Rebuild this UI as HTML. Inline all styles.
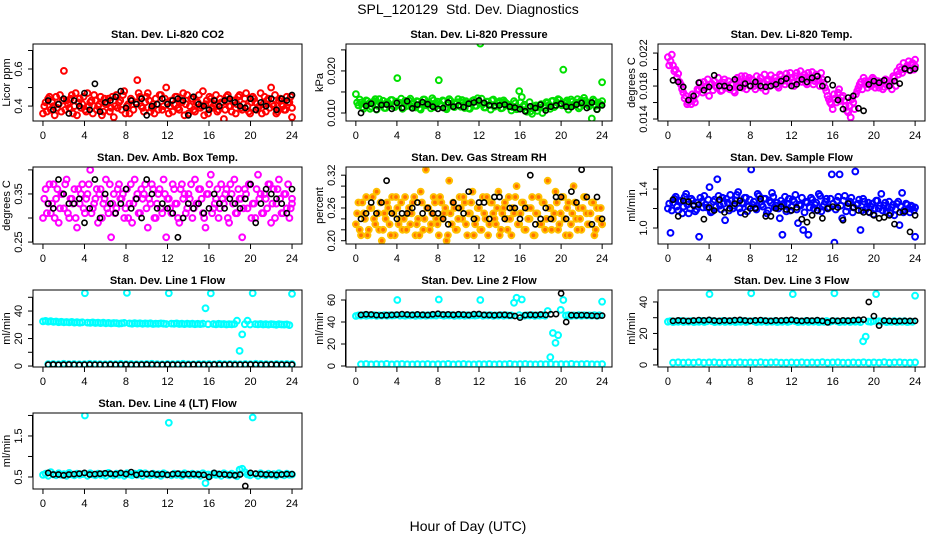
<!DOCTYPE html>
<html><head><meta charset="utf-8">
<style>
html,body{margin:0;padding:0;background:#fff;}
svg{display:block;font-family:"Liberation Sans",Arial,sans-serif;}
</style></head>
<body>
<svg id="chart" width="936" height="540" viewBox="0 0 936 540">
<rect width="936" height="540" fill="#fff"/>
<text x="468" y="14" text-anchor="middle" font-size="14">SPL_120129&#160; Std. Dev. Diagnostics</text>
<text x="468" y="531" text-anchor="middle" font-size="14">Hour of Day (UTC)</text>
</svg>
<script>
const xTicks = [0,4,8,12,16,20,24];

const co2Color = [0.36,0.42,0.44,0.38,0.40,0.45,0.41,0.37,0.59,0.43,0.39,0.46,0.40,0.35,0.44,0.41,0.38,0.47,0.42,0.36,0.43,0.40,0.45,0.37,0.41,0.44,0.39,0.34,0.46,0.42,0.38,0.48,0.40,0.36,0.43,0.76,0.54,0.45,0.39,0.42,0.47,0.37,0.41,0.44,0.38,0.46,0.40,0.50,0.36,0.43,0.41,0.45,0.38,0.42,0.35,0.46,0.40,0.44,0.37,0.42,0.39,0.48,0.41,0.36,0.44,0.40,0.46,0.38,0.42,0.33,0.45,0.40,0.37,0.43,0.41,0.46,0.38,0.44,0.40,0.36,0.45,0.42,0.39,0.47,0.41,0.37,0.44,0.50,0.40,0.36,0.43,0.41,0.38,0.45,0.42,0.34];
const co2ColorB = [0.40,0.37,0.45,0.42,0.35,0.39,0.46,0.43,0.38,0.41,0.44,0.36,0.47,0.42,0.39,0.45,0.37,0.40,0.43,0.46,0.38,0.41,0.35,0.44,0.42,0.37,0.45,0.40,0.39,0.43,0.46,0.36,0.41,0.44,0.38,0.42,0.47,0.40,0.37,0.45,0.43,0.39,0.36,0.41,0.46,0.38,0.44,0.42,0.40,0.37,0.45,0.39,0.43,0.47,0.41,0.36,0.44,0.38,0.42,0.46,0.40,0.35,0.43,0.45,0.39,0.41,0.37,0.44,0.42,0.38,0.46,0.40,0.43,0.36,0.45,0.39,0.41,0.47,0.37,0.42,0.44,0.38,0.40,0.36,0.45,0.43,0.39,0.41,0.46,0.37,0.44,0.40,0.38,0.42,0.45,0.39];
const co2Black = [0.43,0.38,0.41,0.44,0.36,0.43,0.40,0.47,0.38,0.52,0.37,0.42,0.43,0.45,0.48,0.39,0.43,0.41,0.44,0.35,0.40,0.41,0.44,0.41,0.43,0.44,0.43,0.35,0.45,0.41,0.40,0.38,0.43,0.40,0.43,0.44,0.42,0.40,0.39,0.44,0.38,0.42,0.40,0.44,0.38,0.44,0.43,0.46];

const presColor = [0.0145,0.0118,0.0125,0.0110,0.0130,0.0122,0.0115,0.0128,0.0108,0.0133,0.0120,0.0112,0.0126,0.0119,0.0131,0.0114,0.0183,0.0124,0.0110,0.0129,0.0117,0.0134,0.0121,0.0113,0.0127,0.0108,0.0132,0.0118,0.0125,0.0111,0.0130,0.0123,0.0178,0.0116,0.0128,0.0109,0.0133,0.0120,0.0114,0.0126,0.0119,0.0131,0.0112,0.0124,0.0110,0.0129,0.0117,0.0135,0.0265,0.0121,0.0113,0.0127,0.0108,0.0132,0.0118,0.0125,0.0111,0.0130,0.0123,0.0116,0.0106,0.0128,0.0109,0.0152,0.0138,0.0120,0.0103,0.0126,0.0098,0.0115,0.0105,0.0119,0.0100,0.0112,0.0124,0.0110,0.0129,0.0117,0.0133,0.0121,0.0203,0.0127,0.0108,0.0132,0.0118,0.0125,0.0111,0.0130,0.0136,0.0123,0.0116,0.0087,0.0128,0.0109,0.0120,0.0173];
const presColorB = [0.0125,0.0132,0.0114,0.0121,0.0128,0.0110,0.0126,0.0133,0.0117,0.0123,0.0129,0.0112,0.0124,0.0131,0.0116,0.0127,0.0120,0.0134,0.0113,0.0126,0.0130,0.0115,0.0122,0.0128,0.0111,0.0125,0.0132,0.0118,0.0123,0.0135,0.0114,0.0127,0.0121,0.0130,0.0112,0.0124,0.0129,0.0116,0.0122,0.0133,0.0115,0.0126,0.0128,0.0111,0.0123,0.0131,0.0117,0.0125,0.0134,0.0113,0.0127,0.0120,0.0130,0.0115,0.0124,0.0128,0.0112,0.0126,0.0121,0.0118,0.0114,0.0123,0.0110,0.0125,0.0116,0.0107,0.0112,0.0104,0.0110,0.0118,0.0113,0.0121,0.0116,0.0126,0.0119,0.0128,0.0114,0.0125,0.0131,0.0118,0.0124,0.0130,0.0116,0.0127,0.0122,0.0133,0.0115,0.0126,0.0129,0.0119,0.0124,0.0132,0.0117,0.0125,0.0121,0.0128];
const presBlack = [0.0100,0.0117,0.0122,0.0108,0.0119,0.0120,0.0110,0.0124,0.0112,0.0128,0.0111,0.0120,0.0126,0.0121,0.0115,0.0110,0.0112,0.0125,0.0115,0.0118,0.0114,0.0122,0.0125,0.0130,0.0124,0.0118,0.0117,0.0118,0.0120,0.0115,0.0113,0.0109,0.0104,0.0116,0.0112,0.0120,0.0106,0.0115,0.0118,0.0122,0.0115,0.0114,0.0120,0.0124,0.0112,0.0125,0.0108,0.0118];

const tempColor = [0.0215,0.0210,0.0205,0.0200,0.0195,0.0182,0.0172,0.0168,0.0160,0.0158,0.0164,0.0170,0.0175,0.0178,0.0185,0.0180,0.0168,0.0183,0.0186,0.0178,0.0181,0.0175,0.0188,0.0180,0.0176,0.0182,0.0172,0.0190,0.0184,0.0178,0.0192,0.0186,0.0180,0.0187,0.0176,0.0182,0.0190,0.0184,0.0174,0.0188,0.0193,0.0182,0.0186,0.0178,0.0192,0.0188,0.0195,0.0184,0.0190,0.0180,0.0196,0.0188,0.0185,0.0194,0.0182,0.0190,0.0197,0.0186,0.0192,0.0180,0.0188,0.0178,0.0168,0.0160,0.0152,0.0165,0.0172,0.0162,0.0168,0.0156,0.0148,0.0142,0.0160,0.0170,0.0178,0.0185,0.0190,0.0182,0.0186,0.0180,0.0188,0.0183,0.0178,0.0185,0.0179,0.0187,0.0182,0.0176,0.0190,0.0198,0.0203,0.0196,0.0200,0.0205,0.0199,0.0208,0.0204];
const tempColorB = [0.0205,0.0218,0.0198,0.0190,0.0185,0.0176,0.0165,0.0158,0.0164,0.0170,0.0160,0.0176,0.0184,0.0172,0.0178,0.0188,0.0182,0.0175,0.0180,0.0190,0.0174,0.0184,0.0178,0.0186,0.0182,0.0174,0.0186,0.0180,0.0192,0.0184,0.0176,0.0190,0.0188,0.0180,0.0192,0.0186,0.0178,0.0194,0.0186,0.0180,0.0186,0.0190,0.0180,0.0194,0.0186,0.0182,0.0190,0.0196,0.0184,0.0192,0.0186,0.0198,0.0190,0.0184,0.0196,0.0188,0.0182,0.0194,0.0188,0.0196,0.0184,0.0174,0.0164,0.0158,0.0170,0.0160,0.0176,0.0166,0.0162,0.0150,0.0156,0.0164,0.0152,0.0174,0.0182,0.0176,0.0186,0.0178,0.0184,0.0190,0.0178,0.0186,0.0182,0.0176,0.0188,0.0180,0.0184,0.0192,0.0180,0.0194,0.0200,0.0208,0.0202,0.0210,0.0206,0.0200,0.0212];
const tempBlack = [0.0187,0.0185,0.0179,0.0163,0.0168,0.0184,0.0175,0.0179,0.0193,0.0180,0.0180,0.0178,0.0188,0.0178,0.0183,0.0180,0.0185,0.0180,0.0179,0.0180,0.0182,0.0186,0.0189,0.0180,0.0182,0.0188,0.0185,0.0190,0.0192,0.0180,0.0188,0.0181,0.0163,0.0152,0.0166,0.0168,0.0153,0.0150,0.0182,0.0186,0.0184,0.0187,0.0180,0.0186,0.0183,0.0201,0.0199,0.0201];

const ambColor = [0.30,0.36,0.33,0.31,0.37,0.34,0.29,0.35,0.32,0.38,0.30,0.34,0.36,0.28,0.33,0.37,0.31,0.35,0.40,0.32,0.34,0.29,0.36,0.33,0.38,0.31,0.26,0.35,0.32,0.37,0.34,0.30,0.36,0.33,0.29,0.38,0.35,0.31,0.34,0.37,0.28,0.33,0.36,0.30,0.35,0.32,0.38,0.26,0.34,0.31,0.36,0.33,0.29,0.37,0.35,0.32,0.34,0.30,0.38,0.33,0.36,0.31,0.28,0.35,0.39,0.32,0.34,0.30,0.37,0.33,0.36,0.29,0.35,0.38,0.31,0.34,0.26,0.36,0.32,0.37,0.33,0.30,0.39,0.35,0.31,0.34,0.37,0.29,0.36,0.33,0.38,0.31,0.35,0.32,0.30,0.33];
const ambColorB = [0.34,0.31,0.37,0.33,0.30,0.36,0.32,0.35,0.37,0.31,0.34,0.33,0.30,0.36,0.35,0.32,0.34,0.37,0.31,0.33,0.36,0.35,0.30,0.34,0.32,0.37,0.33,0.31,0.36,0.34,0.35,0.32,0.30,0.37,0.33,0.34,0.31,0.36,0.35,0.32,0.34,0.37,0.30,0.33,0.36,0.31,0.35,0.34,0.32,0.37,0.33,0.30,0.36,0.34,0.31,0.35,0.37,0.32,0.33,0.36,0.34,0.30,0.35,0.37,0.31,0.33,0.36,0.32,0.34,0.35,0.30,0.37,0.33,0.31,0.36,0.34,0.32,0.35,0.37,0.30,0.33,0.36,0.34,0.31,0.35,0.32,0.37,0.33,0.30,0.36,0.34,0.31,0.35,0.37,0.32,0.34];
const ambBlack = [0.33,0.32,0.38,0.35,0.33,0.33,0.34,0.29,0.32,0.38,0.30,0.35,0.33,0.31,0.33,0.36,0.32,0.34,0.30,0.38,0.35,0.32,0.33,0.32,0.31,0.26,0.30,0.33,0.32,0.33,0.31,0.32,0.35,0.33,0.32,0.34,0.33,0.32,0.34,0.37,0.29,0.33,0.36,0.35,0.34,0.33,0.31,0.36];

const rhColor = [0.23,0.27,0.21,0.25,0.28,0.22,0.26,0.24,0.29,0.22,0.20,0.25,0.27,0.23,0.28,0.21,0.26,0.24,0.22,0.28,0.25,0.23,0.27,0.21,0.24,0.29,0.22,0.33,0.26,0.23,0.28,0.24,0.21,0.27,0.25,0.20,0.31,0.23,0.26,0.22,0.28,0.24,0.27,0.21,0.25,0.29,0.23,0.26,0.22,0.28,0.24,0.21,0.27,0.25,0.23,0.29,0.22,0.26,0.24,0.28,0.21,0.25,0.30,0.23,0.27,0.22,0.26,0.24,0.28,0.21,0.25,0.23,0.27,0.22,0.31,0.26,0.24,0.29,0.22,0.25,0.28,0.21,0.27,0.23,0.30,0.24,0.26,0.22,0.28,0.25,0.23,0.27,0.21,0.26,0.24,0.23];
const rhColorB = [0.25,0.22,0.27,0.24,0.21,0.26,0.28,0.23,0.25,0.27,0.22,0.24,0.26,0.21,0.25,0.28,0.23,0.27,0.24,0.22,0.26,0.25,0.28,0.23,0.21,0.27,0.24,0.26,0.22,0.25,0.27,0.23,0.28,0.24,0.26,0.21,0.25,0.27,0.22,0.24,0.26,0.28,0.23,0.25,0.27,0.21,0.24,0.26,0.22,0.25,0.28,0.23,0.27,0.24,0.26,0.21,0.25,0.27,0.22,0.24,0.26,0.28,0.23,0.25,0.27,0.22,0.24,0.26,0.21,0.25,0.28,0.23,0.27,0.24,0.26,0.22,0.25,0.27,0.23,0.28,0.24,0.26,0.21,0.25,0.27,0.22,0.24,0.26,0.28,0.23,0.25,0.27,0.22,0.24,0.26,0.23];
const rhBlack = [0.24,0.25,0.27,0.25,0.27,0.31,0.25,0.24,0.25,0.25,0.26,0.27,0.25,0.26,0.25,0.25,0.24,0.23,0.27,0.26,0.25,0.29,0.24,0.27,0.27,0.24,0.28,0.28,0.24,0.26,0.26,0.24,0.26,0.32,0.23,0.24,0.26,0.24,0.28,0.28,0.24,0.29,0.27,0.33,0.28,0.23,0.28,0.24];

const flowColor = [1.20,0.95,1.26,1.32,1.18,1.28,1.22,1.35,1.15,1.30,1.24,1.19,0.91,1.27,1.33,1.21,1.42,1.17,1.29,1.50,1.23,1.31,1.08,1.26,1.34,1.20,1.28,1.37,1.16,1.25,1.31,1.22,1.60,1.27,1.19,1.33,1.24,1.30,1.15,1.28,1.36,1.21,1.26,1.10,0.93,1.32,1.25,1.18,1.29,1.34,1.05,1.23,0.98,1.27,0.93,1.31,1.20,1.26,1.35,1.17,1.24,1.30,1.21,1.55,0.85,1.28,1.55,1.10,1.33,1.22,1.27,1.16,1.58,1.25,0.98,1.30,1.19,1.26,1.22,1.14,1.28,1.20,1.35,1.23,1.17,1.27,1.21,1.13,1.25,1.03,1.36,1.19,1.24,1.16,1.22,0.91];
const flowColorB = [1.25,1.18,1.30,1.22,1.27,1.15,1.32,1.24,1.20,1.28,1.17,1.26,1.31,1.21,1.24,1.29,1.16,1.27,1.22,1.33,1.19,1.25,1.30,1.18,1.28,1.23,1.34,1.20,1.26,1.31,1.17,1.29,1.24,1.21,1.35,1.27,1.22,1.30,1.18,1.26,1.32,1.23,1.20,1.28,1.25,1.17,1.30,1.22,1.27,1.19,1.24,1.31,1.16,1.26,1.21,1.29,1.24,1.18,1.33,1.22,1.27,1.20,1.30,1.25,1.19,1.32,1.23,1.28,1.17,1.26,1.31,1.21,1.24,1.29,1.18,1.27,1.22,1.16,1.25,1.20,1.28,1.23,1.18,1.26,1.21,1.15,1.24,1.19,1.27,1.22,1.16,1.25,1.20,1.23,1.18,1.21];
const flowBlack = [1.29,1.12,1.28,1.27,1.23,1.24,1.09,1.21,1.18,1.29,1.16,1.20,1.25,1.28,1.14,1.20,1.20,1.30,1.12,1.12,1.20,1.22,1.19,1.18,1.21,1.09,1.06,1.13,1.18,1.10,1.20,1.22,1.21,1.08,1.25,1.21,1.18,1.16,1.16,1.13,1.10,1.11,1.13,1.04,1.16,1.17,0.96,1.13];

const line1Hi = [32.5,32.8,32.3,32.6,32.1,32.4,31.9,32.2,31.8,32.0,31.7,32.1,31.6,31.9,31.5,31.8,53.0,31.6,31.4,31.7,31.3,31.6,31.2,31.5,31.1,31.4,31.0,31.3,31.2,30.9,31.1,31.4,53.2,31.0,30.8,31.2,30.9,31.1,30.7,31.0,30.8,31.1,30.6,30.9,30.7,31.0,30.8,30.6,53.0,30.9,30.7,31.0,30.6,30.8,30.5,30.9,30.6,30.8,30.4,30.7,30.5,30.8,42.0,30.4,52.8,30.6,30.3,30.7,30.4,30.6,30.2,30.5,30.3,30.6,33.0,11.0,23.0,30.4,33.0,30.2,53.0,30.5,30.3,30.6,30.2,30.4,30.1,30.5,30.3,30.0,30.4,30.2,30.1,30.3,29.8,52.5];
const line1Lo = [1.4,1.5,1.3,1.6,1.4,1.5,1.3,1.4,1.6,1.5,1.4,1.3,1.5,1.4,1.6,1.4,1.5,1.3,1.4,1.5,1.6,1.4,1.3,1.5,1.4,1.5,1.6,1.4,1.3,1.5,1.4,1.5,1.3,1.6,1.4,1.5,1.4,1.3,1.5,1.4,1.6,1.5,1.4,1.3,1.5,1.4,1.5,1.4];
const line1Black = [1.0,1.1,0.9,1.0,1.1,1.0,0.9,1.0,1.1,1.0,1.0,0.9,1.1,1.0,1.0,1.1,0.9,1.0,1.0,1.1,1.0,0.9,1.0,1.1,1.0,1.0,0.9,1.0,1.1,1.0,1.0,0.9,1.1,1.0,1.0,1.1,0.9,1.0,1.0,1.1,1.0,0.9,1.0,1.1,1.0,1.0,0.9,1.0];

const line2Hi = [45.5,46.0,45.8,46.2,45.7,46.1,45.9,46.3,45.6,46.0,45.8,46.2,45.7,46.1,45.9,46.0,60.0,45.8,46.2,45.7,46.1,45.9,46.3,45.6,46.0,45.8,46.2,45.7,46.1,45.9,46.0,45.8,60.5,46.2,45.7,46.1,45.9,46.3,45.6,46.0,45.8,46.2,45.7,46.1,45.9,46.0,45.8,46.2,60.0,45.7,46.1,45.9,46.3,45.6,46.0,45.8,46.2,45.7,46.1,45.9,46.0,57.5,62.0,46.2,60.5,45.7,46.1,45.9,46.3,45.6,46.0,45.8,46.2,45.7,50.0,8.0,30.0,21.0,28.0,51.0,60.0,45.9,46.3,45.6,46.0,45.8,46.2,45.7,46.1,45.9,46.0,45.8,46.2,45.7,46.1,58.5];
const line2Lo = [1.6,1.8,1.5,1.7,1.6,1.9,1.5,1.7,1.8,1.6,1.5,1.7,1.6,1.8,1.5,1.7,1.6,1.9,1.5,1.7,1.8,1.6,1.5,1.7,1.6,1.8,1.5,1.7,1.6,1.9,1.5,1.7,1.8,1.6,1.5,1.7,1.6,1.8,1.5,1.7,1.6,1.9,1.5,1.7,1.8,1.6,1.5,1.7];
const line2Black = [46.5,47.0,46.8,46.3,46.0,46.2,46.5,46.7,47.2,46.8,46.5,46.9,46.6,46.4,47.0,47.5,46.8,46.9,46.6,47.0,46.7,46.4,47.2,47.3,46.5,46.4,46.2,46.5,46.6,46.0,45.5,44.0,46.3,46.6,46.4,46.8,46.5,47.0,47.2,66.0,40.0,46.2,46.0,46.3,46.1,45.8,45.5,45.8];

const line3Hi = [27.5,27.8,27.2,27.6,27.4,27.9,27.3,27.7,27.5,27.8,27.2,27.6,27.4,27.9,27.3,27.7,45.0,27.8,27.2,27.6,27.4,27.9,27.3,27.7,27.5,27.8,27.2,27.6,27.4,27.9,27.3,27.7,45.5,27.8,27.2,27.6,27.4,27.9,27.3,27.7,27.5,27.8,27.2,27.6,27.4,27.9,27.3,27.7,45.0,27.8,27.2,27.6,27.4,27.9,27.3,27.7,27.5,27.8,27.2,27.6,27.4,27.9,27.3,27.7,45.5,27.8,27.2,27.6,27.4,27.9,27.3,27.7,27.5,27.8,27.2,15.0,18.0,27.6,27.4,27.9,45.0,27.7,27.5,27.8,27.2,27.6,27.4,27.9,27.3,27.7,27.5,27.8,27.2,27.6,27.4,44.0];
const line3Lo = [1.5,1.7,1.4,1.6,1.5,1.8,1.4,1.6,1.7,1.5,1.4,1.6,1.5,1.7,1.4,1.6,1.5,1.8,1.4,1.6,1.7,1.5,1.4,1.6,1.5,1.7,1.4,1.6,1.5,1.8,1.4,1.6,1.7,1.5,1.4,1.6,1.5,1.7,1.4,1.6,1.5,1.8,1.4,1.6,1.7,1.5,1.4,1.6];
const line3Black = [28.0,28.3,28.1,27.9,28.2,28.5,28.3,28.6,28.2,28.0,28.3,28.1,28.4,28.6,28.2,28.0,28.3,28.5,28.1,28.0,28.3,28.2,28.4,28.7,28.2,28.0,28.3,28.1,28.4,28.0,27.0,28.2,28.0,28.3,28.1,28.4,28.6,28.8,40.0,31.0,25.0,28.2,28.0,27.8,27.9,28.0,28.0,28.0];

const line4Color = [0.55,0.58,0.53,0.62,0.56,0.54,0.59,0.55,0.57,0.53,0.60,0.56,0.54,0.58,0.55,0.57,2.00,0.53,0.59,0.56,0.54,0.58,0.55,0.57,0.53,0.60,0.56,0.54,0.58,0.55,0.57,0.53,0.59,0.56,0.54,0.58,0.55,0.60,0.53,0.59,0.56,0.54,0.58,0.55,0.57,0.53,0.59,0.56,1.82,0.54,0.58,0.55,0.57,0.53,0.59,0.56,0.54,0.58,0.55,0.57,0.53,0.59,0.35,0.56,0.54,0.58,0.55,0.57,0.53,0.59,0.56,0.54,0.58,0.55,0.52,0.68,0.70,0.62,0.56,0.54,1.95,0.57,0.53,0.59,0.56,0.54,0.58,0.55,0.57,0.53,0.59,0.56,0.54,0.58,0.55,0.56];
const line4Black = [0.60,0.56,0.56,0.54,0.56,0.57,0.58,0.60,0.56,0.57,0.58,0.59,0.58,0.57,0.60,0.57,0.62,0.55,0.58,0.57,0.58,0.56,0.57,0.55,0.57,0.58,0.56,0.57,0.57,0.56,0.55,0.50,0.60,0.57,0.56,0.55,0.54,0.56,0.28,0.60,0.58,0.57,0.56,0.56,0.55,0.56,0.57,0.57];

const C1=[33,302], C2=[346,612], C3=[658,925];
const R1=[44,121], R2=[167,244], R3=[290,367], R4=[413,489];

const panels = [
 {id:'co2', title:'Stan. Dev. Li-820 CO2', ylab:'Licor ppm', cx:C1, ry:R1, ylim:[0.3194,0.735], ticks:[0.4,0.5,0.6,0.7], labels:[0.4,0.6], fmt:1,
  series:[{d:co2Color,c:'#ff0000',k:'c'},{d:co2ColorB,c:'#ff0000',k:'c'},{d:co2Black,c:'#000',k:'b'}]},
 {id:'pressure', title:'Stan. Dev. Li-820 Pressure', ylab:'kPa', cx:C2, ry:R1, ylim:[0.0081,0.0264], ticks:[0.010,0.015,0.020,0.025], labels:[0.010,0.020], fmt:3,
  series:[{d:presColor,c:'#00e000',k:'c'},{d:presColorB,c:'#00e000',k:'c'},{d:presBlack,c:'#000',k:'b'}]},
 {id:'li820-temp', title:'Stan. Dev. Li-820 Temp.', ylab:'degrees C', cx:C3, ry:R1, ylim:[0.01376,0.0231], ticks:[0.014,0.016,0.018,0.020,0.022], labels:[0.014,0.018,0.022], fmt:3,
  series:[{d:tempColor,c:'#ff00ff',k:'c'},{d:tempColorB,c:'#ff00ff',k:'c'},{d:tempBlack,c:'#000',k:'b'}]},
 {id:'amb-box-temp', title:'Stan. Dev. Amb. Box Temp.', ylab:'degrees C', cx:C1, ry:R2, ylim:[0.246,0.406], ticks:[0.25,0.30,0.35,0.40], labels:[0.25,0.35], fmt:2,
  series:[{d:ambColor,c:'#ff00ff',k:'c'},{d:ambColorB,c:'#ff00ff',k:'c'},{d:ambBlack,c:'#000',k:'b'}]},
 {id:'gas-rh', title:'Stan. Dev. Gas Stream RH', ylab:'percent', cx:C2, ry:R2, ylim:[0.194,0.335], ticks:[0.20,0.22,0.24,0.26,0.28,0.30,0.32], labels:[0.20,0.26,0.32], fmt:2,
  series:[{d:rhColor,c:'#ffc000',k:'c',f:'#ff7000'},{d:rhColorB,c:'#ffc000',k:'c',f:'#ff7000'},{d:rhBlack,c:'#000',k:'b'}]},
 {id:'sample-flow', title:'Stan. Dev. Sample Flow', ylab:'ml/min', cx:C3, ry:R2, ylim:[0.836,1.626], ticks:[1.0,1.2,1.4,1.6], labels:[1.0,1.4], fmt:1,
  series:[{d:flowColor,c:'#0000ff',k:'c'},{d:flowColorB,c:'#0000ff',k:'c'},{d:flowBlack,c:'#000',k:'b'}]},
 {id:'line1-flow', title:'Stan. Dev. Line 1 Flow', ylab:'ml/min', cx:C1, ry:R3, ylim:[-0.7,55.3], ticks:[0,10,20,30,40,50], labels:[0,20,40], fmt:0,
  series:[{d:line1Hi,c:'#00ffff',k:'c'},{d:line1Lo,c:'#00ffff',k:'b'},{d:line1Black,c:'#000',k:'b'}]},
 {id:'line2-flow', title:'Stan. Dev. Line 2 Flow', ylab:'ml/min', cx:C2, ry:R3, ylim:[-0.9,69.1], ticks:[0,20,40,60], labels:[0,20,40,60], fmt:0,
  series:[{d:line2Hi,c:'#00ffff',k:'c'},{d:line2Lo,c:'#00ffff',k:'b'},{d:line2Black,c:'#000',k:'b'}]},
 {id:'line3-flow', title:'Stan. Dev. Line 3 Flow', ylab:'ml/min', cx:C3, ry:R3, ylim:[-1.3,47.6], ticks:[0,10,20,30,40], labels:[0,20,40], fmt:0,
  series:[{d:line3Hi,c:'#00ffff',k:'c'},{d:line3Lo,c:'#00ffff',k:'b'},{d:line3Black,c:'#000',k:'b'}]},
 {id:'line4-flow', title:'Stan. Dev. Line 4 (LT) Flow', ylab:'ml/min', cx:C1, ry:R4, ylim:[0.207,2.06], ticks:[0.5,1.0,1.5,2.0], labels:[0.5,1.5], fmt:1,
  series:[{d:line4Color,c:'#00ffff',k:'c'},{d:line4Black,c:'#000',k:'b'}]}
];

const svg = document.getElementById('chart');
const NS = 'http://www.w3.org/2000/svg';
function mk(tag, attrs, parent){
  const e = document.createElementNS(NS, tag);
  for (const k in attrs) e.setAttribute(k, attrs[k]);
  (parent||svg).appendChild(e);
  return e;
}

panels.forEach(p=>{
  const g = mk('g', {});
  
  
  const [x0,x1] = p.cx, [y0,y1] = p.ry;
  const xs = v => x0 + (v + 0.96) / 25.92 * (x1 - x0);
  const ys = v => y1 - (v - p.ylim[0]) / (p.ylim[1] - p.ylim[0]) * (y1 - y0);

  const cp = mk('clipPath', {id:'clip-'+p.id}, g);
  mk('rect', {x:x0, y:y0, width:x1-x0, height:y1-y0}, cp);
  const pts = mk('g', {'clip-path':'url(#clip-'+p.id+')'}, g);
  
  

  p.series.forEach((s,si)=>{
    const n = s.d.length;
    const off = (s.k === 'c' && si === 1) ? 0.125 : 0;
    s.d.forEach((v,i)=>{
      const h = s.k === 'c' ? Math.min(24, i / (n - 1) * 24 + off) : 0.5 + i * (23.5 / (n - 1));
      const isBlack = s.c === '#000';
      const c = mk('circle', {cx:xs(h).toFixed(1), cy:ys(v).toFixed(1), r: isBlack ? 2.6 : 2.9,
        fill: s.f || 'none', stroke:s.c, 'stroke-width': isBlack ? 1.6 : 2}, pts);
      
      
    });
  });

  const box = mk('rect', {x:x0, y:y0, width:x1-x0, height:y1-y0, fill:'none', stroke:'#000', 'stroke-width':1}, g);
  
  

  const t = mk('text', {x:(x0+x1)/2, y:y0-6, 'text-anchor':'middle', 'font-size':11, 'font-weight':'bold'}, g);
  t.textContent = p.title;
  
  

  const xa = mk('g', {}, g);
  
  
  xTicks.forEach(v=>{
    const x = xs(v);
    mk('line', {x1:x, x2:x, y1:y1, y2:y1+5, stroke:'#000'}, xa);
    const tl = mk('text', {x:x, y:y1+18, 'text-anchor':'middle', 'font-size':11}, xa);
    tl.textContent = v;
    
    
  });

  const ya = mk('g', {}, g);
  
  
  const tv = p.ticks.map(ys);
  mk('line', {x1:x0-0.5, x2:x0-0.5, y1:Math.max(...tv), y2:Math.min(...tv), stroke:'#000'}, ya);
  p.ticks.forEach(v=>{
    const y = ys(v);
    mk('line', {x1:x0-5, x2:x0, y1:y, y2:y, stroke:'#000'}, ya);
  });
  p.labels.forEach(v=>{
    const y = ys(v);
    const tx = x0 - 11;
    const tl = mk('text', {x:tx, y:y, 'text-anchor':'middle', 'font-size':11, transform:'rotate(-90 '+tx+' '+y+')'}, ya);
    tl.textContent = v.toFixed(p.fmt);
    
    
  });
  const yt = x0 - 23, ym = (y0+y1)/2;
  const yl = mk('text', {x:yt, y:ym, 'text-anchor':'middle', 'font-size':11, transform:'rotate(-90 '+yt+' '+ym+')'}, ya);
  yl.textContent = p.ylab;
  
  
});
</script>
</body></html>
